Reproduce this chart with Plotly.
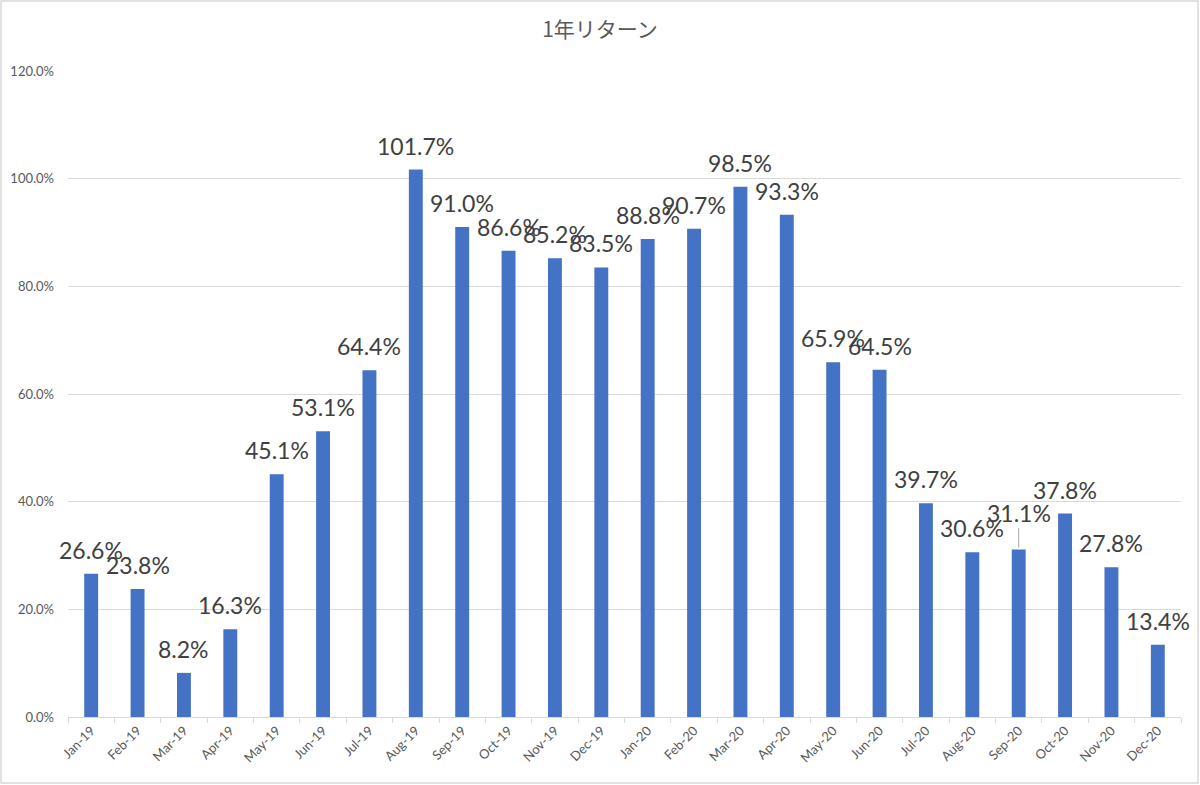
import plotly.graph_objects as go

# monthly 1-year return (%)
months = ['Jan-19', 'Feb-19', 'Mar-19', 'Apr-19', 'May-19', 'Jun-19', 'Jul-19', 'Aug-19',
          'Sep-19', 'Oct-19', 'Nov-19', 'Dec-19', 'Jan-20', 'Feb-20', 'Mar-20', 'Apr-20',
          'May-20', 'Jun-20', 'Jul-20', 'Aug-20', 'Sep-20', 'Oct-20', 'Nov-20', 'Dec-20']
returns = [26.6, 23.8, 8.2, 16.3, 45.1, 53.1, 64.4, 101.7,
           91.0, 86.6, 85.2, 83.5, 88.8, 90.7, 98.5, 93.3,
           65.9, 64.5, 39.7, 30.6, 31.1, 37.8, 27.8, 13.4]
y_ticks = [0, 20, 40, 60, 80, 100, 120]

W, H = 1200, 785
L, R, T, B = 68, 19, 71, 68

fig = go.Figure(go.Bar(
    x=months, y=returns,
    marker=dict(color='#4472C4', line=dict(width=0)),
    width=0.3,
    hoverinfo='x+y',
))

# data labels (Excel style, centred above each bar)
for m, v in zip(months, returns):
    if m == 'Sep-20':
        # this one was dragged up, with a leader line
        fig.add_annotation(x=m, y=v, text=f'{v:.1f}%', showarrow=True,
                           arrowhead=0, arrowwidth=1, arrowcolor='#a6a6a6',
                           ax=0, ay=-37, standoff=2,
                           font=dict(size=23, color='#404040', family='Lato'))
    else:
        fig.add_annotation(x=m, y=v, text=f'{v:.1f}%', showarrow=False,
                           yanchor='bottom', yshift=8,
                           font=dict(size=23, color='#404040', family='Lato'))

pw, ph = W - L - R, H - T - B
# light frame round the chart area
fig.add_shape(type='rect', xref='paper', yref='paper',
              x0=-(L - 1) / pw, x1=1 + (R - 2) / pw,
              y0=-(B - 2) / ph, y1=1 + (T - 1) / ph,
              line=dict(color='#d9d9d9', width=1.5))

fig.update_layout(
    width=W, height=H,
    margin=dict(l=L, r=R, t=T, b=B, autoexpand=False),
    paper_bgcolor='white',
    plot_bgcolor='white',
    showlegend=False,
    title=dict(text='1年リターン', x=0.5, xanchor='center', y=1 - 30 / H, yanchor='middle',
               font=dict(size=21, color='#595959', family='Noto Sans CJK JP')),
    xaxis=dict(
        type='category',
        range=[-0.5, len(months) - 0.5],
        automargin=False,
        tickangle=-45,
        tickson='boundaries',
        ticks='outside', ticklen=5, tickcolor='#d9d9d9',
        showline=True, linecolor='#d9d9d9', linewidth=1,
        showgrid=False,
        tickfont=dict(size=13, color='#595959', family='Lato'),
    ),
    yaxis=dict(
        automargin=False,
        range=[0, 120],
        tickvals=y_ticks,
        ticktext=[f'{t:.1f}%' for t in y_ticks],
        showgrid=True, gridcolor='#d9d9d9', gridwidth=1,
        zeroline=False,
        ticks='', ticklen=0,
        ticklabelstandoff=13,
        tickfont=dict(size=13, color='#595959', family='Lato'),
    ),
)

# drop the page's default body margin so the figure sits at the window's corner
fig.write_html("out.html", config={'displayModeBar': False},
               post_script="document.body.style.margin='0';")
